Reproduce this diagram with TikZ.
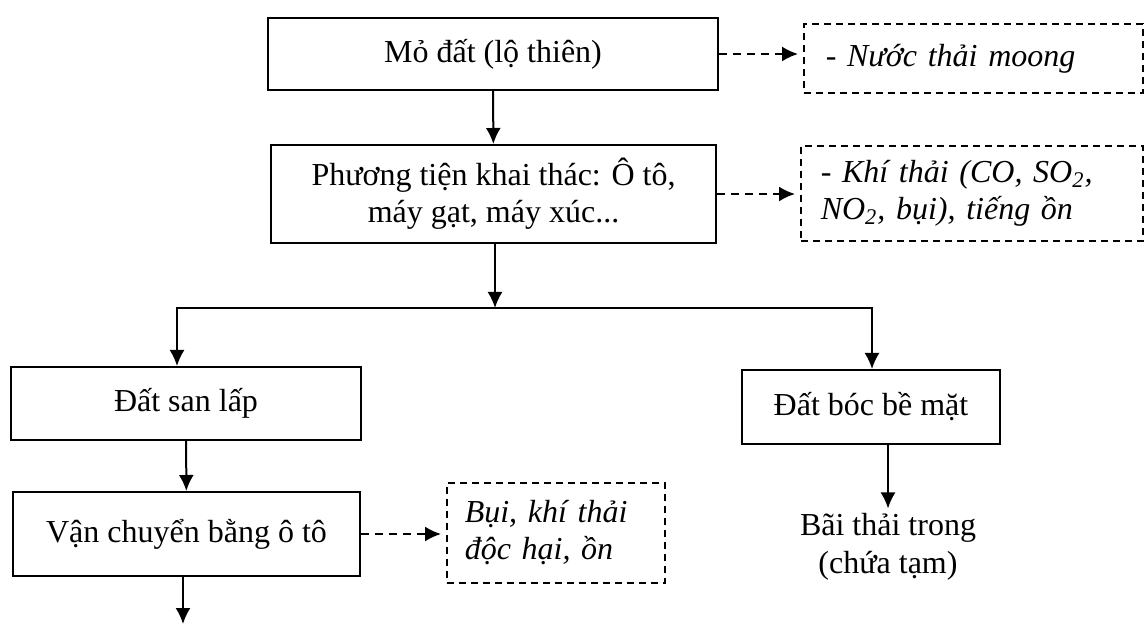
\documentclass[tikz,border=0pt]{standalone}
\usepackage{fontspec}
\setmainfont[ItalicFeatures={WordSpace=0.8}]{Liberation Serif}
\usetikzlibrary{arrows.meta}
\begin{document}
\begin{tikzpicture}[x=0.5pt,y=-0.5pt,>={Latex[length=8pt,width=7.5pt]},
  box/.style={draw,line width=1pt,align=center,inner sep=0pt,font=\fontsize{16}{18.5}\selectfont},
  note/.style={draw,line width=0.75pt,dash pattern=on 3.5pt off 2.5pt,anchor=west,align=left,
    inner ysep=0pt,font=\itshape\fontsize{16}{18.5}\selectfont},
  link/.style={->,line width=1pt},
  emit/.style={->,line width=1pt,dash pattern=on 4pt off 3pt,shorten >=2.5pt}]
\useasboundingbox (0,0) rectangle (1144,624);
% main boxes
\node[box,minimum width=225pt,minimum height=36pt] (mo) at (493,54) {Mỏ đất (lộ thiên)};
\node[box,minimum width=222.5pt,minimum height=49pt] (xe) at (493.5,194) {Phương tiện khai thác: Ô tô,\\máy gạt, máy xúc...};
\node[box,minimum width=175pt,minimum height=36.5pt] (san) at (186,403.5) {Đất san lấp};
\node[box,minimum width=173.5pt,minimum height=42pt] (vc) at (186.5,534) {Vận chuyển bằng ô tô};
\node[box,minimum width=129pt,minimum height=37pt] (boc) at (871,407) {Đất bóc bề mặt};
\node[box,draw=none,inner sep=2pt,font=\fontsize{16}{19}\selectfont] (bai) at (888,547) {Bãi thải trong\\(chứa tạm)};
% emissions
\node[note,text width=147.5pt,inner xsep=11pt,minimum height=34.5pt] (n1) at (803,58.5) {- Nước thải moong};
\node[note,text width=151pt,inner xsep=10pt,minimum height=47.5pt] (n2) at (800,193.5) {- Khí thải (CO, SO\textsubscript{2},\\NO\textsubscript{2}, bụi), tiếng ồn};
\node[note,text width=91pt,inner xsep=9pt,minimum height=50pt] (n3) at (446,533) {Bụi, khí thải\\độc hại, ồn};
% connectors
\coordinate (jn) at (495,308);
\coordinate (jl) at (177,308);
\coordinate (jr) at (872,308);
\coordinate (out) at (183,624);
\draw[link] (mo) -- (xe);
\draw[link] (xe.south -| jn) -- (jn);
\draw[line width=1pt,<->] (jl |- san.north) -- (jl) -- (jr) -- (jr |- boc.north);
\draw[link] (san) -- (vc);
\draw[link] (vc.south -| out) -- (out);
\draw[link] (boc.south -| bai) -- (bai);
\draw[emit] (mo) -- (mo -| n1.west);
\draw[emit] (xe) -- (xe -| n2.west);
\draw[emit] (vc) -- (vc -| n3.west);
\end{tikzpicture}
\end{document}
